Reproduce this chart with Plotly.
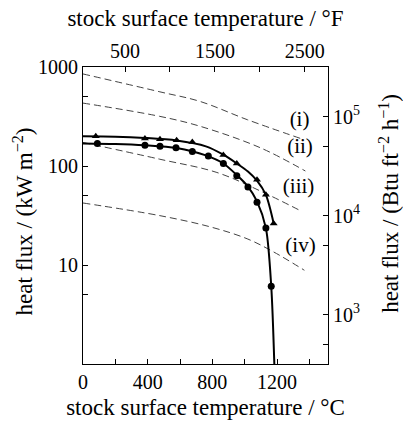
import math
import plotly.graph_objects as go

# ---- data ----
# dashed reference curves (i)-(iv): temperature degC, heat flux kW m^-2
curve_i_T = [0, 476, 724, 1015, 1344]
curve_i_q = [851, 561, 449, 294, 190]
curve_ii_T = [0, 476, 724, 1096, 1375]
curve_ii_q = [432, 317, 252, 153, 89]
curve_iii_T = [0, 476, 828, 1096, 1344]
curve_iii_q = [173, 117, 86, 56, 35.4]
curve_iv_T = [0, 476, 786, 1015, 1177, 1369]
curve_iv_q = [42.3, 31.5, 24.3, 18.4, 13.6, 8.85]

curve_labels = ["(i)", "(ii)", "(iii)", "(iv)"]
label_T = [1339, 1342, 1333, 1345]
label_q = [287, 154, 61, 15.3]

# measured points: triangles
tri_T = [79, 383, 476, 579, 676, 868, 951, 1076, 1131, 1179]
tri_q = [200, 190, 186, 182, 175, 129, 106, 72.5, 51.2, 26.3]
# measured points: circles
cir_T = [89, 383, 476, 575, 676, 775, 868, 951, 1020, 1076, 1131, 1164]
cir_q = [169, 162, 158, 153, 140, 126, 106, 79.6, 61.2, 43, 23.6, 6.1]

# fitted solid curves
tri_fit_T = [0, 200, 383, 579, 760, 868, 951, 1020, 1076, 1131, 1179]
tri_fit_q = [200, 198, 192, 181, 158, 130, 106, 88, 71, 51, 26.3]
cir_fit_T = [0, 200, 383, 579, 760, 868, 951, 1020, 1076, 1131, 1164, 1184]
cir_fit_q = [169, 167, 162, 152, 128, 106, 81, 62, 44, 23.6, 6.1, 0.9]

C_ticks = [0, 200, 400, 600, 800, 1000, 1200, 1400]
C_ticktext = ["0", "", "400", "", "800", "", "1200", ""]
F_ticks = [500, 1000, 1500, 2000, 2500]
F_ticktext = ["500", "", "1500", "", "2500"]
kW_ticks = [5, 10, 50, 100, 500, 1000]
kW_ticktext = ["", "10", "", "100", "", "1000"]
Btu_ticks = [500, 1000, 5000, 10000, 50000, 100000]
Btu_ticktext = ["", "10<sup>3</sup>", "", "10<sup>4</sup>", "", "10<sup>5</sup>"]

T_MAX = 1515
KW_TO_BTU = 317.1

FONT = "Liberation Serif"

fig = go.Figure()

dash_style = dict(color="#444", width=1, dash="7px,4px")
for T, q in [(curve_i_T, curve_i_q), (curve_ii_T, curve_ii_q),
             (curve_iii_T, curve_iii_q), (curve_iv_T, curve_iv_q)]:
    fig.add_trace(go.Scatter(x=T, y=q, mode="lines", line=dict(**dash_style, shape="spline"),
                             showlegend=False, hoverinfo="skip"))

fig.add_trace(go.Scatter(x=tri_fit_T, y=tri_fit_q, mode="lines",
                         line=dict(color="black", width=2, shape="spline", smoothing=0.8),
                         showlegend=False, hoverinfo="skip"))
fig.add_trace(go.Scatter(x=cir_fit_T, y=cir_fit_q, mode="lines",
                         line=dict(color="black", width=2, shape="spline", smoothing=0.8),
                         showlegend=False, hoverinfo="skip"))
fig.add_trace(go.Scatter(x=tri_T, y=tri_q, mode="markers",
                         marker=dict(symbol="triangle-up", size=7, color="black"),
                         showlegend=False))
fig.add_trace(go.Scatter(x=cir_T, y=cir_q, mode="markers",
                         marker=dict(symbol="circle", size=7, color="black"),
                         showlegend=False))
fig.add_trace(go.Scatter(x=label_T, y=label_q, mode="text", text=curve_labels,
                         textfont=dict(family=FONT, size=21, color="black"),
                         showlegend=False, hoverinfo="skip"))

# invisible trace to create the secondary (top / right) axes
fig.add_trace(go.Scatter(x=[1000], y=[10000], xaxis="x2", yaxis="y2", mode="markers",
                         marker=dict(opacity=0), showlegend=False, hoverinfo="skip"))

axis_common = dict(showline=True, linecolor="black", linewidth=1, mirror=False,
                   ticks="inside", ticklen=5, tickcolor="black", tickwidth=1,
                   showgrid=False, zeroline=False,
                   tickfont=dict(family=FONT, size=20, color="black"))

fig.update_layout(
    width=403, height=427,
    margin=dict(l=83, r=75, t=67, b=61),
    paper_bgcolor="white", plot_bgcolor="white",
    font=dict(family=FONT, color="black"),
    xaxis=dict(range=[0, T_MAX], tickmode="array", tickvals=C_ticks, ticktext=C_ticktext,
               title=dict(text="stock surface temperature / °C",
                          font=dict(family=FONT, size=23), standoff=6),
               **axis_common),
    xaxis2=dict(range=[32, T_MAX * 1.8 + 32], overlaying="x", side="top",
                anchor="y", tickmode="array", tickvals=F_ticks, ticktext=F_ticktext,
                title=dict(text="stock surface temperature / °F",
                           font=dict(family=FONT, size=23), standoff=6),
                **axis_common),
    yaxis=dict(type="log", range=[0, 3], tickmode="array", tickvals=kW_ticks,
               ticktext=kW_ticktext, **axis_common),
    yaxis2=dict(type="log", range=[math.log10(KW_TO_BTU), 3 + math.log10(KW_TO_BTU)],
                overlaying="y", side="right", anchor="x", tickmode="array",
                tickvals=Btu_ticks, ticktext=Btu_ticktext, **axis_common),
    annotations=[
        dict(text="heat flux / (kW m<sup>−2</sup>)", textangle=-90,
             xref="paper", yref="paper", x=-0.245, y=0.48,
             xanchor="center", yanchor="middle", showarrow=False,
             font=dict(family=FONT, size=23, color="black")),
        dict(text="heat flux / (Btu ft<sup>−2</sup> h<sup>−1</sup>)", textangle=-90,
             xref="paper", yref="paper", x=1.25, y=0.54,
             xanchor="center", yanchor="middle", showarrow=False,
             font=dict(family=FONT, size=23, color="black")),
    ],
)

fig.write_html("out.html")
